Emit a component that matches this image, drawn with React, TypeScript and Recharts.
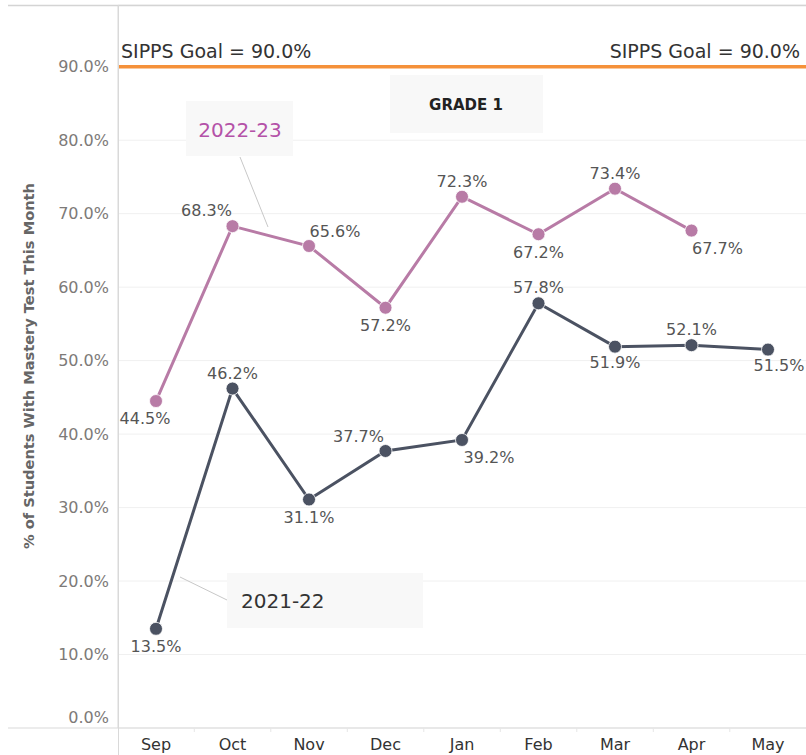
import React from "react";
import {
  LineChart,
  Line,
  XAxis,
  YAxis,
  CartesianGrid,
  ReferenceLine,
} from "recharts";

const months = ["Sep", "Oct", "Nov", "Dec", "Jan", "Feb", "Mar", "Apr", "May"];
const series2223: (number | null)[] = [44.5, 68.3, 65.6, 57.2, 72.3, 67.2, 73.4, 67.7, null];
const series2122: number[] = [13.5, 46.2, 31.1, 37.7, 39.2, 57.8, 51.9, 52.1, 51.5];
const yTicks = [0, 10, 20, 30, 40, 50, 60, 70, 80, 90];
const goalValue = 90;

// label placement (style): [dx, dy]
const place2223: [number, number][] = [
  [-11, 23], [-26, -10], [26, -9], [0, 23], [0, -10], [0, 24], [0, -10], [26, 23], [0, 0],
];
const place2122: [number, number][] = [
  [0, 23], [0, -10], [0, 24], [-27, -9], [27, 23], [0, -10], [0, 21], [0, -10], [11, 21],
];

const data = months.map((m, i) => ({
  month: m,
  s2223: series2223[i],
  s2122: series2122[i],
}));

const FONT = "'DejaVu Sans', sans-serif";
const COLOR_2223 = "#b87ba6";
const COLOR_2122 = "#4b5262";

const makeLabel = (placement: [number, number][]) => (props: any) => {
  const { x, y, value, index } = props;
  if (value == null || x == null || y == null) return null;
  const [dx, dy] = placement[index] || [0, -10];
  return (
    <text
      x={x + dx}
      y={y + dy}
      textAnchor="middle"
      fontFamily={FONT}
      fontSize={16}
      fill="#555555"
    >
      {`${Number(value).toFixed(1)}%`}
    </text>
  );
};

const YTick = (props: any) => {
  const { x, y, payload } = props;
  const shift = payload.value === 0 ? -11 : 0;
  return (
    <text
      x={x}
      y={y + shift}
      dy="0.355em"
      textAnchor="end"
      fontFamily={FONT}
      fontSize={16}
      fill="#7d7a78"
    >
      {`${Number(payload.value).toFixed(1)}%`}
    </text>
  );
};

const XTick = (props: any) => {
  const { x, y, payload, index } = props;
  return (
    <g>
      {index > 0 && (
        <line x1={x - 38.2} x2={x - 38.2} y1={728} y2={732} stroke="#e6e6e6" strokeWidth={1} />
      )}
      <text
        x={x}
        y={750}
        textAnchor="middle"
        fontFamily={FONT}
        fontSize={16}
        fill="#333333"
      >
        {payload.value}
      </text>
    </g>
  );
};

const GoalLabel = (props: any) => {
  const vb = props.viewBox || {};
  const text = `SIPPS Goal = ${goalValue.toFixed(1)}%`;
  return (
    <g>
      <text x={vb.x + 3} y={vb.y - 9} fontFamily={FONT} fontSize={19} fill="#333333">
        {text}
      </text>
      <text
        x={vb.x + vb.width - 6}
        y={vb.y - 9}
        textAnchor="end"
        fontFamily={FONT}
        fontSize={19}
        fill="#333333"
      >
        {text}
      </text>
    </g>
  );
};

export default function App() {
  return (
    <div style={{ position: "absolute", left: 0, top: 0, width: 806, height: 755, background: "#fff" }}>
      <LineChart
        width={806}
        height={755}
        data={data}
        margin={{ top: 5, right: 0, bottom: 0, left: 0 }}
      >
        <CartesianGrid horizontal vertical={false} stroke="#f0f0f0" strokeWidth={1} />
        <XAxis
          dataKey="month"
          height={27}
          padding={{ left: 38, right: 38 }}
          axisLine={{ stroke: "#d9d9d9" }}
          tickLine={false}
          tick={<XTick />}
          interval={0}
        />
        <YAxis
          width={118}
          domain={[0, 98.4]}
          ticks={yTicks}
          allowDataOverflow
          axisLine={{ stroke: "#d9d9d9" }}
          tickLine={false}
          tickSize={0}
          tickMargin={9}
          tick={<YTick />}
          interval={0}
        />
        <ReferenceLine
          y={goalValue}
          stroke="#f5913a"
          strokeWidth={3.5}
          label={<GoalLabel />}
          ifOverflow="visible"
        />
        <Line
          dataKey="s2223"
          stroke={COLOR_2223}
          strokeWidth={3}
          dot={{ r: 6.5, fill: COLOR_2223, stroke: "#ffffff", strokeWidth: 0.8 }}
          activeDot={false}
          isAnimationActive={false}
          connectNulls={false}
          label={makeLabel(place2223)}
        />
        <Line
          dataKey="s2122"
          stroke={COLOR_2122}
          strokeWidth={3}
          dot={{ r: 6.5, fill: COLOR_2122, stroke: "#ffffff", strokeWidth: 0.8 }}
          activeDot={false}
          isAnimationActive={false}
          label={makeLabel(place2122)}
        />
      </LineChart>
      <svg
        width={806}
        height={755}
        style={{ position: "absolute", left: 0, top: 0, pointerEvents: "none" }}
      >
        {/* frame lines */}
        <line x1={8} x2={806} y1={5.5} y2={5.5} stroke="#d4d4d4" strokeWidth={1.5} />
        <line x1={8} x2={118} y1={728} y2={728} stroke="#d9d9d9" strokeWidth={1} />
        <line x1={118.5} x2={118.5} y1={5} y2={755} stroke="#d9d9d9" strokeWidth={1} />
        {/* axis title */}
        <text
          transform="translate(34,366) rotate(-90)"
          textAnchor="middle"
          fontFamily={FONT}
          fontSize={14.6}
          fontWeight="bold"
          fill="#666666"
        >
          % of Students With Mastery Test This Month
        </text>
        {/* GRADE 1 box */}
        <rect x={390} y={75} width={153} height={58} fill="#f8f8f8" />
        <text
          x={466}
          y={110}
          textAnchor="middle"
          fontFamily={FONT}
          fontSize={15}
          fontWeight="bold"
          fill="#222222"
        >
          GRADE 1
        </text>
        {/* 2022-23 annotation */}
        <line x1={240} y1={157} x2={268} y2={227} stroke="#c8c8c8" strokeWidth={1} />
        <rect x={186} y={101} width={107} height={55} fill="#f8f8f8" />
        <text
          x={240}
          y={137}
          textAnchor="middle"
          fontFamily={FONT}
          fontSize={20}
          fill="#b452a8"
        >
          2022-23
        </text>
        {/* 2021-22 annotation */}
        <line x1={180} y1={577} x2={227} y2={600} stroke="#c8c8c8" strokeWidth={1} />
        <rect x={227} y={573} width={196} height={55} fill="#f8f8f8" />
        <text x={241} y={608} fontFamily={FONT} fontSize={20} fill="#333333">
          2021-22
        </text>
      </svg>
    </div>
  );
}
